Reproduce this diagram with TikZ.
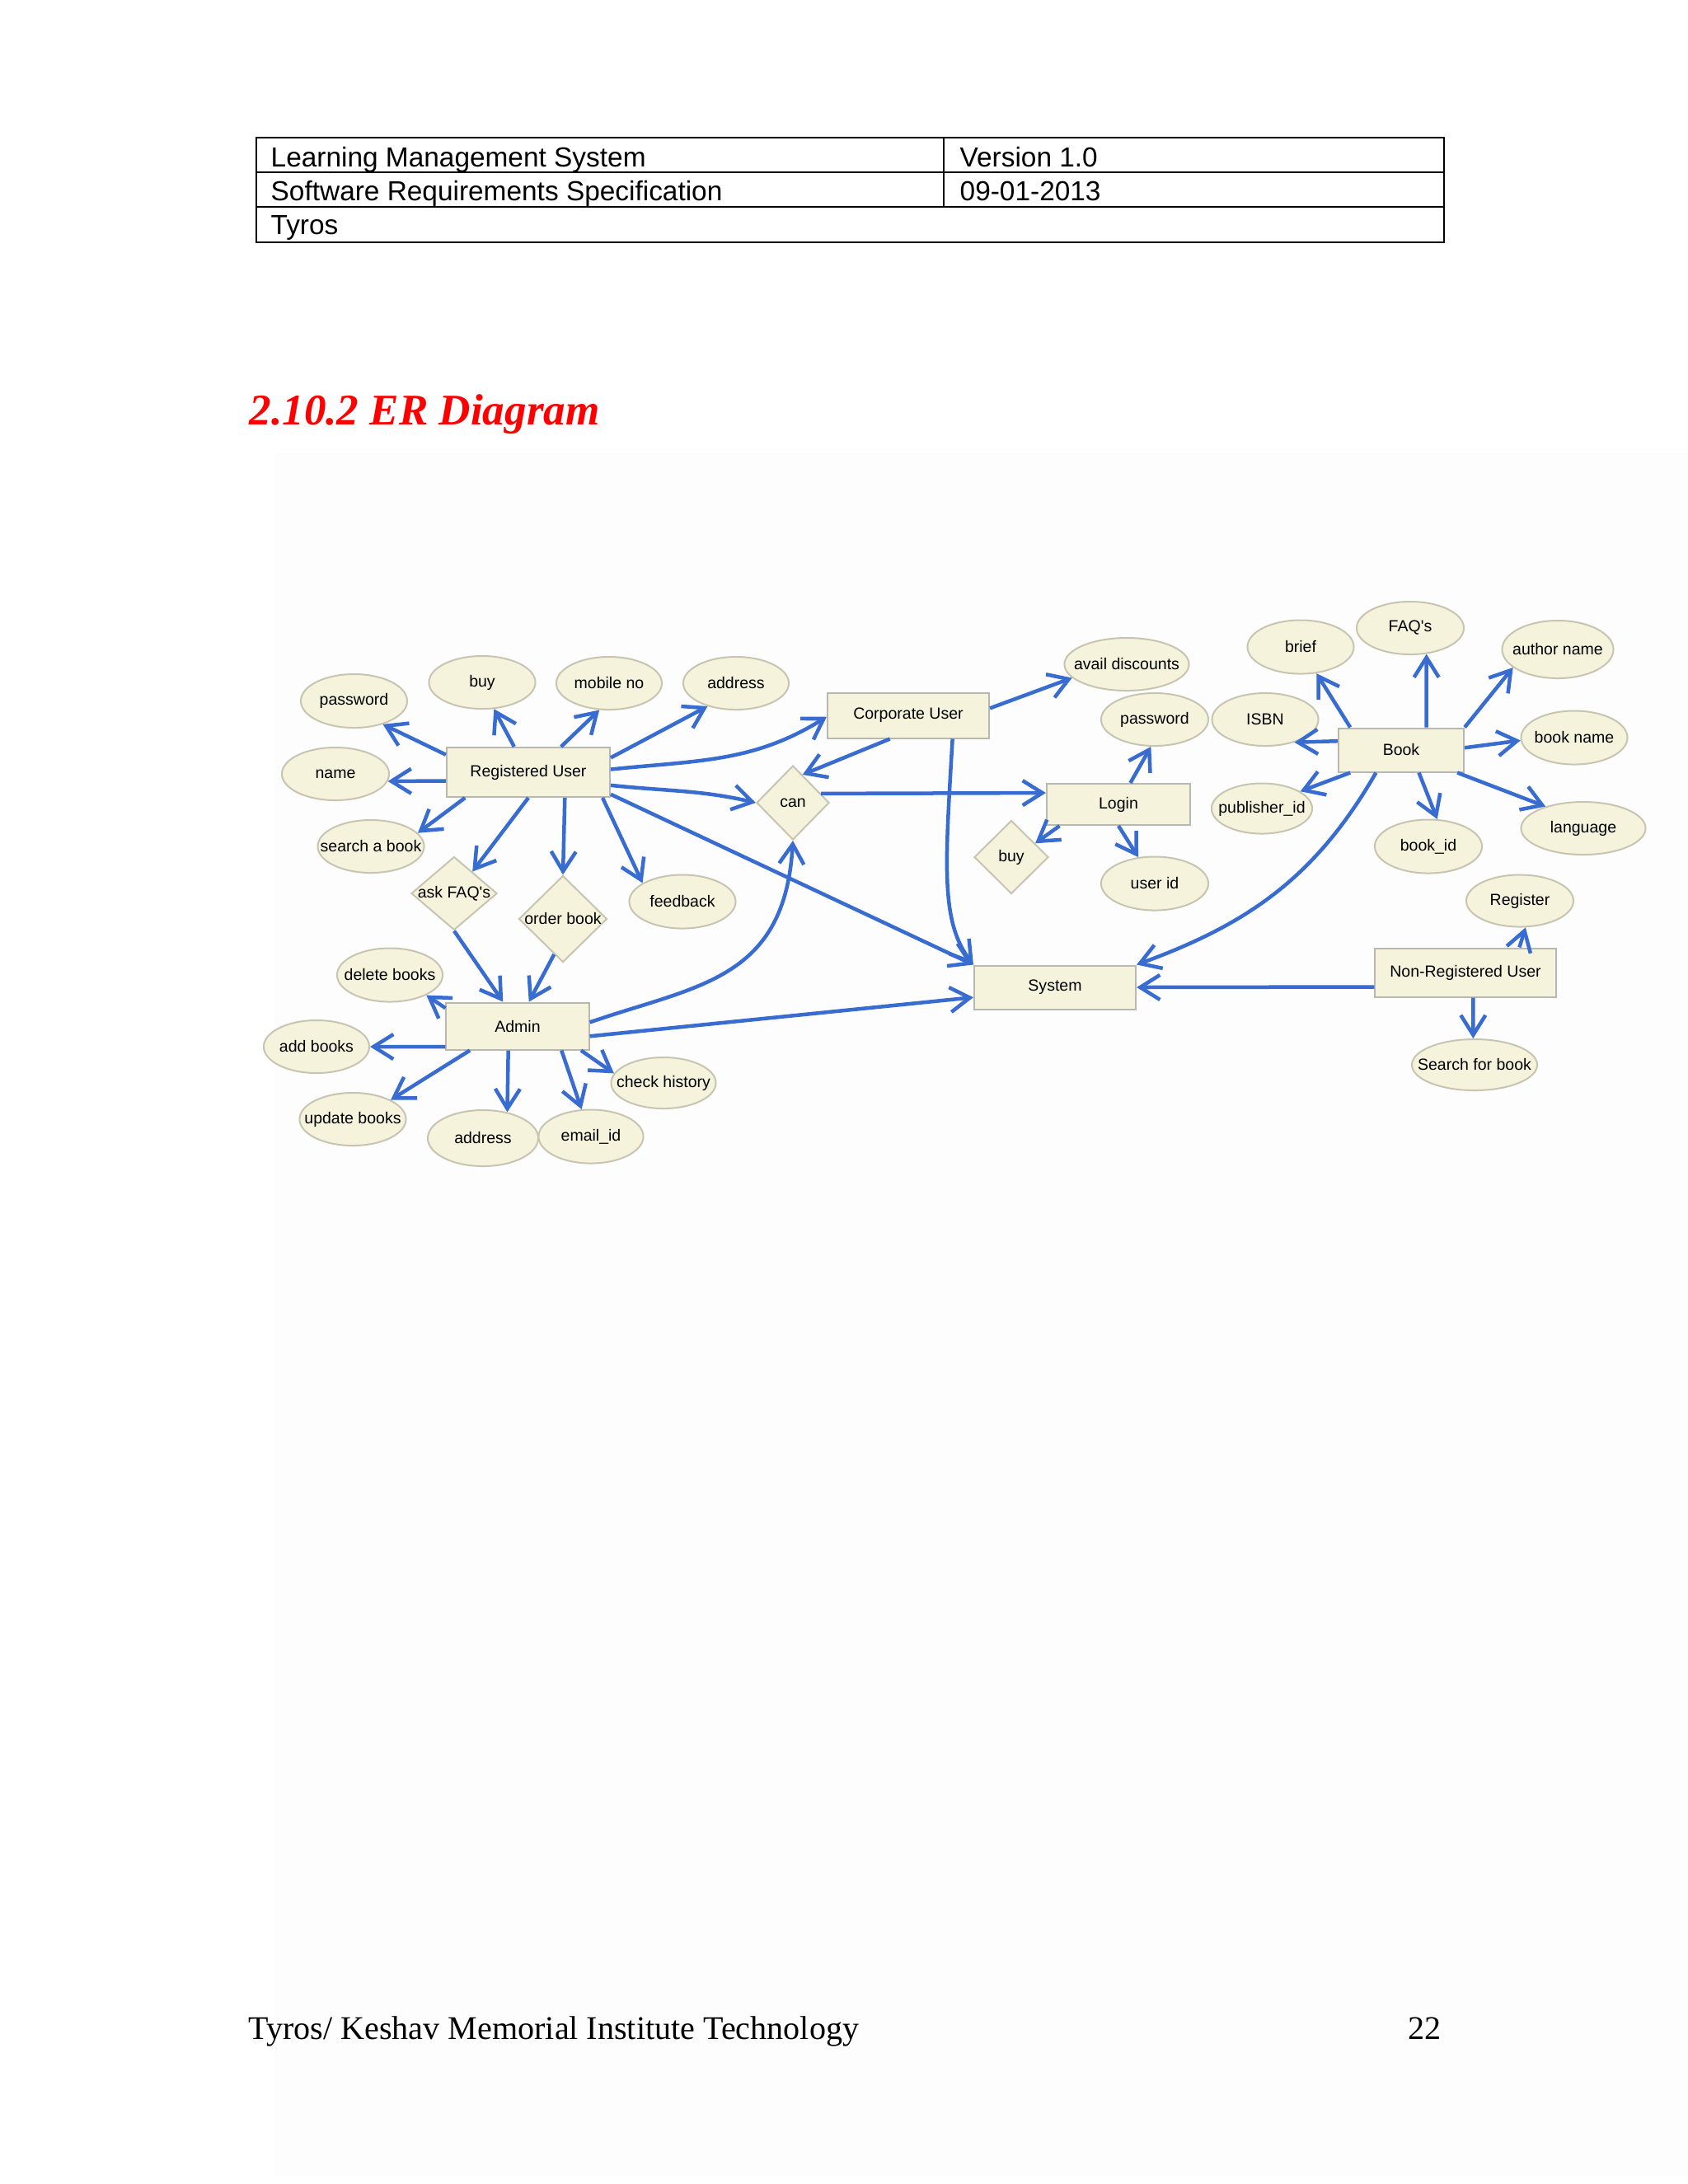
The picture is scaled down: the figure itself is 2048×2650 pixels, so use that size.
\documentclass[tikz,border=0pt]{standalone}
\usepackage{fontspec}
\setmainfont{Liberation Serif}
\newfontfamily\arialf{Liberation Sans}
\usetikzlibrary{shapes.geometric,arrows.meta}
\definecolor{cream}{RGB}{246,243,220}
\definecolor{ellgray}{RGB}{200,196,178}
\definecolor{boxgray}{RGB}{184,184,176}
\definecolor{erblue}{RGB}{56,108,208}
\definecolor{pagebg}{RGB}{253,253,253}
\newcommand\zw[1]{\makebox[0pt][c]{#1}}
\begin{document}
\begin{tikzpicture}[x=0.01cm,y=-0.01cm,
  attr/.style={ellipse, draw=ellgray, fill=cream, line width=0.02cm, inner sep=0pt,
     font=\arialf\fontsize{5.55pt}{6.5pt}\selectfont},
  ent/.style={rectangle, draw=boxgray, fill=cream, line width=0.02cm, inner sep=0pt,
     font=\arialf\fontsize{5.55pt}{6.5pt}\selectfont},
  rel/.style={diamond, draw=ellgray, fill=cream, line width=0.02cm, inner sep=0pt,
     font=\arialf\fontsize{5.55pt}{6.5pt}\selectfont},
  con/.style={draw=erblue, line width=0.045cm, -{Straight Barb[length=0.24cm,width=0.30cm]}},
  hdr/.style={anchor=base west, inner sep=0pt, font=\arialf\fontsize{9.5pt}{11pt}\selectfont}
]
\useasboundingbox (0,0) rectangle (2048,2650);
\fill[pagebg] (333,550) rectangle (2048,2640);

% header table
\draw[line width=0.025cm] (311,167) rectangle (1752,294);
\draw[line width=0.025cm] (311,209) -- (1752,209);
\draw[line width=0.025cm] (311,251) -- (1752,251);
\draw[line width=0.025cm] (1145,167) -- (1145,251);
\node[hdr] (h1) at (328,202) {Learning Management System};
\node[hdr] (h2) at (1164,202) {Version 1.0};
\node[hdr] (h3) at (328,243) {Software Requirements Specification};
\node[hdr] (h4) at (1164,243) {09-01-2013};
\node[hdr] (h5) at (328,284) {Tyros};

% title
\node[anchor=base west, inner sep=0pt, text=red,
  font=\fontsize{15.1pt}{18pt}\selectfont\bfseries\itshape] (title) at (302,515) {2.10.2 ER Diagram};

% footer
\node[anchor=base west, inner sep=0pt, font=\fontsize{11.4pt}{13pt}\selectfont] (foot) at (301,2474) {Tyros/ Keshav Memorial Institute Technology};
\node[anchor=base east, inner sep=0pt, font=\fontsize{11.4pt}{13pt}\selectfont] (pg) at (1749,2474) {22};

% entities
\node[ent, minimum width=1.98cm, minimum height=0.60cm] (RU) at (641,937) {Registered User};
\node[ent, minimum width=1.96cm, minimum height=0.55cm] (CU) at (1102,868) {Corporate User};
\node[ent, minimum width=1.74cm, minimum height=0.50cm] (login) at (1357,976) {Login};
\node[ent, minimum width=1.52cm, minimum height=0.53cm] (book) at (1700,910) {Book};
\node[ent, minimum width=1.96cm, minimum height=0.53cm] (sys) at (1280,1198) {System};
\node[ent, minimum width=1.73cm, minimum height=0.57cm] (admin) at (628,1245) {Admin};
\node[ent, minimum width=2.19cm, minimum height=0.59cm] (nru) at (1778,1180) {Non-Registered User};

% relationships
\node[rel, minimum width=0.88cm, minimum height=0.90cm] (can) at (962,974) {\zw{can}};
\node[rel, minimum width=0.90cm, minimum height=0.89cm] (buyD) at (1227,1040) {\zw{buy}};
\node[rel, minimum width=1.04cm, minimum height=0.89cm] (faq) at (551,1084) {\zw{ask FAQ\textquotesingle s}};
\node[rel, minimum width=1.07cm, minimum height=1.05cm] (ob) at (683,1115) {\zw{order book}};

% attributes
\node[attr, minimum width=1.29cm, minimum height=0.65cm] (pwA) at (429.5,850.5) {\zw{password}};
\node[attr, minimum width=1.29cm, minimum height=0.64cm] (buyA) at (585,828) {\zw{buy}};
\node[attr, minimum width=1.28cm, minimum height=0.64cm] (mob) at (739,829) {\zw{mobile no}};
\node[attr, minimum width=1.28cm, minimum height=0.64cm] (addrA) at (893,829) {\zw{address}};
\node[attr, minimum width=1.30cm, minimum height=0.64cm] (name) at (407,939) {\zw{name}};
\node[attr, minimum width=1.29cm, minimum height=0.64cm] (sab) at (450,1027) {\zw{search a book}};
\node[attr, minimum width=1.29cm, minimum height=0.65cm] (fb) at (828,1094) {\zw{feedback}};
\node[attr, minimum width=1.28cm, minimum height=0.65cm] (del) at (473,1183) {\zw{delete books}};
\node[attr, minimum width=1.28cm, minimum height=0.64cm] (add) at (384,1270) {\zw{add books}};
\node[attr, minimum width=1.29cm, minimum height=0.64cm] (upd) at (428,1358) {\zw{update books}};
\node[attr, minimum width=1.34cm, minimum height=0.68cm] (addrB) at (586,1381) {\zw{address}};
\node[attr, minimum width=1.27cm, minimum height=0.65cm] (email) at (717,1379) {\zw{email\_id}};
\node[attr, minimum width=1.27cm, minimum height=0.62cm] (chk) at (805,1314) {\zw{check history}};
\node[attr, minimum width=1.51cm, minimum height=0.64cm] (ad) at (1367,806) {\zw{avail discounts}};
\node[attr, minimum width=1.30cm, minimum height=0.64cm] (pwB) at (1401,873) {\zw{password}};
\node[attr, minimum width=1.30cm, minimum height=0.65cm] (uid) at (1401,1072) {\zw{user id}};
\node[attr, minimum width=1.29cm, minimum height=0.64cm] (isbn) at (1535,873) {\zw{ISBN}};
\node[attr, minimum width=1.22cm, minimum height=0.61cm] (pub) at (1531,981) {\zw{publisher\_id}};
\node[attr, minimum width=1.29cm, minimum height=0.65cm] (brief) at (1578,785) {\zw{brief}};
\node[attr, minimum width=1.30cm, minimum height=0.64cm] (faqs) at (1711,762) {\zw{FAQ\textquotesingle s}};
\node[attr, minimum width=1.35cm, minimum height=0.70cm] (auth) at (1890,788) {\zw{author name}};
\node[attr, minimum width=1.29cm, minimum height=0.65cm] (bname) at (1910,895) {\zw{book name}};
\node[attr, minimum width=1.51cm, minimum height=0.64cm] (lang) at (1921,1005) {\zw{language}};
\node[attr, minimum width=1.30cm, minimum height=0.65cm] (bid) at (1733,1027) {\zw{book\_id}};
\node[attr, minimum width=1.30cm, minimum height=0.63cm] (reg) at (1844,1093) {\zw{Register}};
\node[attr, minimum width=1.52cm, minimum height=0.62cm] (sfb) at (1789,1292) {\zw{Search for book}};

% connectors: Registered User
\draw[con] (RU.168) -- (pwA.-39);
\draw[con] (RU.119) -- (buyA.-66);
\draw[con] (RU.38) -- (mob.-110);
\draw[con] (RU.10) -- (addrA.-141);
\draw[con] (RU.2) to[out=6,in=212] (CU.181);
\draw[con] (RU.186) -- (name.-8);
\draw[con] (RU.202) -- (sab.16);
\draw[con] (RU.-90) -- (faq.50);
\draw[con] (RU.-35) -- (ob.north);
\draw[con] (RU.-19) -- (fb.155);
\draw[con] (RU.-9) to[out=-6,in=167] (can.west);
\draw[con] (RU.-15) -- (sys.north west);
% Corporate User
\draw[con] (CU.5) -- (ad.194);
\draw[con] (CU.-128) -- (can.71);
\draw[con] (CU.-28) .. controls +(-9,154) and +(-40,-52) .. (sys.north west);
% can
\draw[con] (can.18) -- (login.171);
% Admin
\draw[con] (admin.3) .. controls +(130,-45) and +(-10,170) .. (can.south);
\draw[con] (admin.-8) -- (sys.187);
\draw[con] (admin.166) -- (del.-29);
\draw[con] (admin.196) -- (add.east);
\draw[con] (admin.207) -- (upd.27);
\draw[con] (admin.-111) -- (addrB.47);
\draw[con] (admin.-29) -- (email.109);
\draw[con] (admin.-21) -- (chk.169);
\draw[con] (faq.south) -- (admin.121);
\draw[con] (ob.-104) -- (admin.65);
% Login
\draw[con] (login.61) -- (pwB.-98);
\draw[con] (login.-160) -- (buyD.30);
\draw[con] (login.south) -- (uid.122);
% Book
\draw[con] (book.156) -- (brief.-59);
\draw[con] (book.42) -- (faqs.-58);
\draw[con] (book.north east) -- (auth.202);
\draw[con] (book.172) -- (isbn.-38);
\draw[con] (book.2) -- (bname.183);
\draw[con] (book.204) -- (pub.24);
\draw[con] (book.-52) -- (bid.72);
\draw[con] (book.-22) -- (lang.150);
\draw[con] (book.-138) to[out=-120,in=20] (sys.north east);
% Non-Registered User
\draw[con] (nru.25) -- (reg.-78);
\draw[con] (nru.-73) -- (sfb.93);
\draw[con] (nru.189) -- (sys.east);
\end{tikzpicture}
\end{document}
